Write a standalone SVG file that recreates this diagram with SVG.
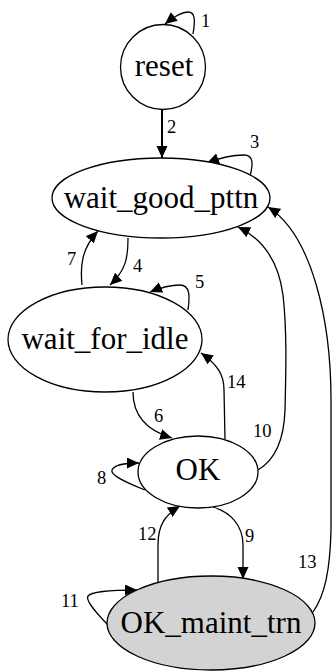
<svg xmlns="http://www.w3.org/2000/svg" width="332" height="671" viewBox="0 0 332 671">
<style>
.n{fill:#fff;stroke:#000;stroke-width:1.3}
.nt{font-family:"Liberation Serif","Times New Roman",serif;font-size:31px;text-anchor:middle;fill:#000}
.e{fill:none;stroke:#000;stroke-width:1.3;marker-end:url(#ah)}
.l{font-family:"Liberation Serif","Times New Roman",serif;font-size:18.5px;fill:#000}
</style>
<defs>
<marker id="ah" markerUnits="userSpaceOnUse" markerWidth="14" markerHeight="12" refX="12" refY="5.5" orient="auto">
<path d="M0,0 L12,5.5 L0,11 z" fill="#000"/>
</marker>
</defs>
<rect width="332" height="671" fill="#fff"/>
<g id="edges">
<path class="e" d="M193,34 C195,22 196,12 188,12 C182,12 176,15 165,24"/>
<path class="e" style="stroke-width:2" d="M162,109 L162,158"/>
<path class="e" d="M250,176 C253,165 254,155 244,155 C236,155 222,157 207,163"/>
<path class="e" d="M128,238 C128,258 126,270 110,285"/>
<path class="e" d="M188,310 C190,296 190,285 180,285 C172,285 162,287 150,292"/>
<path class="e" d="M133,392 C133,415 145,430 172,438"/>
<path class="e" d="M82,285 C80,265 82,248 98,231"/>
<path class="e" d="M145,490 C125,482 110,475 112,470 C114,465 125,463 139,463"/>
<path class="e" d="M213,507 C230,512 243,525 243,545 L243,579"/>
<path class="e" d="M258,470 C275,460 284,440 285,410 C286,370 287,330 283,295 C279,265 265,240 238,227"/>
<path class="e" d="M108,625 C98,615 85,600 88,596 C92,591 115,590 137,590"/>
<path class="e" d="M158,582 L158,545 C158,525 165,515 180,506"/>
<path class="e" d="M313,612 C325,595 330,570 331,530 L331,400 C331,320 312,235 268,207"/>
<path class="e" d="M225,439 L224,390 C224,375 218,365 201,353"/>
</g>
<g id="labels">
<text class="l" x="201" y="27">1</text>
<text class="l" x="167" y="133">2</text>
<text class="l" x="250" y="148">3</text>
<text class="l" x="133" y="272">4</text>
<text class="l" x="195" y="288">5</text>
<text class="l" x="154" y="422">6</text>
<text class="l" x="67" y="265">7</text>
<text class="l" x="97" y="484">8</text>
<text class="l" x="245" y="542">9</text>
<text class="l" x="253" y="437">10</text>
<text class="l" x="61" y="607">11</text>
<text class="l" x="138" y="540">12</text>
<text class="l" x="298" y="568">13</text>
<text class="l" x="227" y="388">14</text>
</g>
<g id="reset">
<circle class="n" cx="163" cy="67" r="42.5"/>
<text class="nt" x="164" y="75.5">reset</text>
</g>
<g id="wait_good_pttn">
<ellipse class="n" cx="161" cy="198" rx="109" ry="40"/>
<text class="nt" x="161" y="207.5">wait_good_pttn</text>
</g>
<g id="wait_for_idle">
<ellipse class="n" cx="105" cy="339.5" rx="97" ry="52.5"/>
<text class="nt" x="105" y="349">wait_for_idle</text>
</g>
<g id="OK">
<ellipse class="n" cx="198" cy="472" rx="60" ry="36"/>
<text class="nt" x="198" y="479.5">OK</text>
</g>
<g id="OK_maint_trn">
<ellipse class="n" cx="211" cy="623" rx="104" ry="47" style="fill:#d3d3d3"/>
<text class="nt" x="211" y="633">OK_maint_trn</text>
</g>
</svg>
